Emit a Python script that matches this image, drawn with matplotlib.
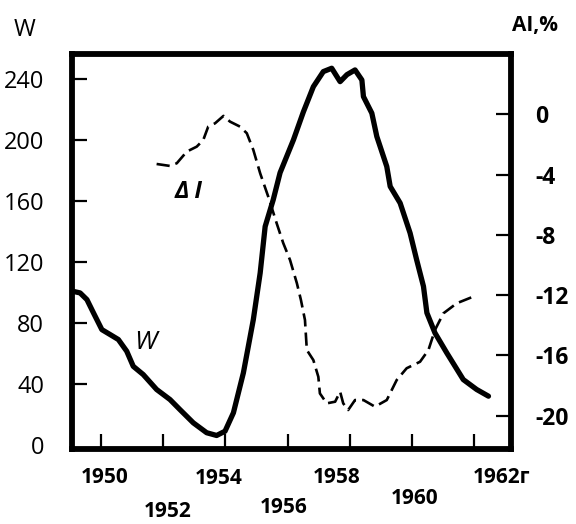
import matplotlib.pyplot as plt
import matplotlib.transforms as mtransforms

plt.rcParams['font.family'] = ['Open Sans', 'DejaVu Sans']

# W curve (left axis)
W_YEARS = [
    1949.11, 1949.33, 1949.55, 1949.76, 1950.03, 1950.30, 1950.56, 1950.83,
    1951.04, 1951.36, 1951.79, 1952.22, 1952.54, 1952.97, 1953.40, 1953.72,
    1953.99, 1954.26, 1954.58, 1954.90, 1955.12, 1955.28, 1955.54, 1955.76,
    1956.19, 1956.51, 1956.83, 1957.15, 1957.42, 1957.69, 1957.91, 1958.17,
    1958.39, 1958.44, 1958.71, 1958.87, 1959.19, 1959.30, 1959.62, 1959.94,
    1960.15, 1960.37, 1960.48, 1960.74, 1961.12, 1961.65, 1962.08, 1962.46,
]
W_VALUES = [
    100.7, 99.7, 95.3, 86.6, 75.6, 72.3, 69.1, 61.4,
    51.5, 46.1, 36.3, 29.7, 23.1, 14.4, 7.9, 6.1,
    8.9, 21.0, 47.2, 82.2, 112.8, 143.3, 160.9, 178.6,
    200.2, 218.6, 235.1, 245.0, 247.2, 238.4, 243.0, 246.1,
    239.5, 228.6, 217.7, 202.4, 182.7, 169.6, 158.7, 139.0,
    121.5, 104.0, 86.6, 73.4, 60.3, 42.8, 36.3, 31.9,
]

# delta I curve (right axis, %)
AI_YEARS = [
    1951.79, 1952.22, 1952.44, 1952.76, 1953.08, 1953.29, 1953.45, 1953.67,
    1953.94, 1954.15, 1954.47, 1954.69, 1954.90, 1955.12, 1955.38, 1955.65,
    1955.86, 1956.08, 1956.30, 1956.43, 1956.56, 1956.62, 1956.83, 1956.99,
    1957.04, 1957.26, 1957.53, 1957.69, 1957.79, 1957.95, 1958.17, 1958.44,
    1958.81, 1959.19, 1959.51, 1959.83, 1960.26, 1960.53, 1960.74, 1961.01,
    1961.44, 1961.97,
]
AI_VALUES = [
    -3.30, -3.43, -3.25, -2.48, -2.15, -1.71, -0.82, -0.60,
    -0.11, -0.49, -0.82, -1.26, -2.37, -3.92, -5.47, -7.23,
    -8.54, -9.67, -11.21, -12.32, -13.65, -15.64, -16.31, -17.42,
    -18.52, -19.18, -19.07, -18.41, -19.18, -19.62, -18.96, -18.96,
    -19.40, -18.96, -17.63, -16.85, -16.42, -15.64, -14.31, -13.21,
    -12.54, -12.10,
]

W_TICKS = [0, 40, 80, 120, 160, 200, 240]
AI_TICKS = [0, -4, -8, -12, -16, -20]
YEAR_TICKS = [1950, 1952, 1954, 1956, 1958, 1960, 1962]
YEAR_LABELS = ['1950', '1952', '1954', '1956', '1958', '1960', '1962г']

# where each year label sits (shift in years, y in axes fraction)
LABEL_SHIFT = [0.13, 0.13, -0.2, -0.13, -0.41, 0.1, 0.87]
LABEL_Y = [-0.07, -0.156, -0.074, -0.148, -0.072, -0.125, -0.072]

fig = plt.figure(figsize=(5.76, 5.24), dpi=100)
ax = fig.add_axes([0.125, 0.1422, 0.763, 0.754])
ax2 = ax.twinx()

ax.plot(W_YEARS, W_VALUES, color='black', lw=3.8,
        solid_joinstyle='round', solid_capstyle='round')
ax2.plot(AI_YEARS, AI_VALUES, color='black', lw=1.9, dashes=(5, 2.3))

ax.set_xlim(1949.07, 1963.2)
ax.set_ylim(-3.1, 256.3)
ax2.set_ylim(-22.24, 3.97)

ax.set_xticks(YEAR_TICKS)
ax.set_xticklabels([])
ax.set_yticks(W_TICKS)
ax.set_yticklabels([str(v) for v in W_TICKS], fontsize=17)
ax2.set_yticks(AI_TICKS)
ax2.set_yticklabels([str(v) for v in AI_TICKS], fontsize=16.5,
                    fontweight='bold')

ax.tick_params(axis='y', direction='in', length=11, width=1.6, pad=20)
ax.tick_params(axis='x', direction='in', length=11, width=1.6)
ax2.tick_params(axis='y', direction='in', length=11, width=1.6, pad=17)
ax.yaxis.get_major_ticks()[0].tick1line.set_visible(False)

for side in ['left', 'right', 'top', 'bottom']:
    ax.spines[side].set_linewidth(4.2)
    ax2.spines[side].set_visible(False)

trans = mtransforms.blended_transform_factory(ax.transData, ax.transAxes)
for year, label, shift, y in zip(YEAR_TICKS, YEAR_LABELS, LABEL_SHIFT, LABEL_Y):
    ax.text(year + shift, y, label, transform=trans, ha='center', va='center',
            fontsize=15, fontweight='bold')

ax.text(1952.81, 166, 'Δ I', fontsize=17, fontweight='bold', style='italic',
        ha='center', va='center')
ax.text(1951.44, 67, 'W', fontsize=19, style='italic',
        ha='center', va='center')

fig.text(25 / 576, 1 - 30 / 524, 'W', fontsize=17, ha='center', va='center')
fig.text(535 / 576, 1 - 25 / 524, 'AI,%', fontsize=15, fontweight='bold',
         ha='center', va='center')

fig.savefig('out.png', dpi=100)
